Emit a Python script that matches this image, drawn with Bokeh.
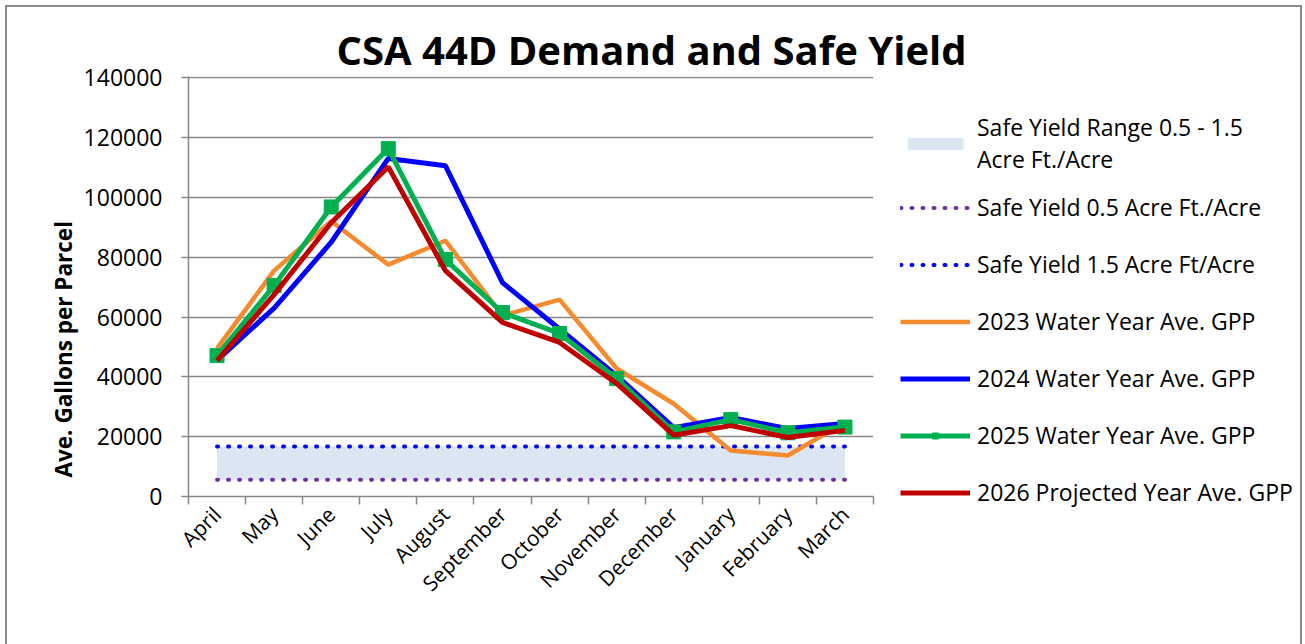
import math
from bokeh.plotting import figure
from bokeh.models import (ColumnDataSource, Legend, LegendItem, FixedTicker, Title,
                          Range1d, BasicTickFormatter, InlineStyleSheet)
from bokeh.embed import file_html
from bokeh.resources import INLINE

months = ["April", "May", "June", "July", "August", "September", "October",
          "November", "December", "January", "February", "March"]
wy2023 = [49500, 75500, 92000, 77500, 85500, 60500, 65800, 42800, 31000, 15400, 13700, 24800]
wy2024 = [45500, 63000, 85000, 113000, 110600, 71500, 56000, 40400, 23000, 26400, 22700, 24400]
wy2025 = [47100, 70500, 96800, 116300, 79200, 61500, 54500, 39400, 21600, 25700, 21300, 23200]
wy2026 = [45400, 67500, 91500, 110200, 75500, 58200, 51500, 37800, 20500, 23700, 19700, 22100]
safe_low = 5600
safe_high = 16700
y_ticks = [0, 20000, 40000, 60000, 80000, 100000, 120000, 140000]

FONT = "Open Sans"
GRAY = "#878787"

x = [i + 0.5 for i in range(len(months))]
src = ColumnDataSource(dict(
    x=x, wy2023=wy2023, wy2024=wy2024, wy2025=wy2025, wy2026=wy2026,
    low=[safe_low] * len(months), high=[safe_high] * len(months)))

p = figure(frame_width=685, frame_height=420, output_backend="svg", toolbar_location=None,
           x_range=Range1d(0, len(months)), y_range=Range1d(y_ticks[0], y_ticks[-1] + 400),
           min_border_left=188, min_border_right=0, min_border_top=76,
           min_border_bottom=132)
p.outline_line_color = None
p.background_fill_color = "white"
p.border_fill_color = "white"
p.stylesheets = [InlineStyleSheet(css=(
    ":host { position: relative; }"
    ":host::after { content: ''; position: absolute; left: 5px; top: 5px; width: 1297px;"
    " height: 650px; border: 2px solid #8a8a8a; border-bottom: none;"
    " pointer-events: none; box-sizing: border-box; }"))]

band = p.varea(x="x", y1="low", y2="high", source=src, fill_color="#DCE6F2")
low_line = p.line(x="x", y="low", source=src, line_color="#7030A0", line_width=4,
                  line_dash="1 10", line_cap="round")
high_line = p.line(x="x", y="high", source=src, line_color="#0000FF", line_width=4,
                   line_dash="1 10", line_cap="round")
l23 = p.line(x="x", y="wy2023", source=src, line_color="#F58A2E", line_width=4.5)
l24 = p.line(x="x", y="wy2024", source=src, line_color="#0000FF", line_width=5)
l25 = p.line(x="x", y="wy2025", source=src, line_color="#00B050", line_width=5)
m25 = p.scatter(x="x", y="wy2025", source=src, marker="square", size=14,
                fill_color="#00B050", line_color="#00B050")
l26 = p.line(x="x", y="wy2026", source=src, line_color="#C00000", line_width=5)

# axes
p.xaxis.ticker = FixedTicker(ticks=x, minor_ticks=list(range(len(months) + 1)))
p.xaxis.major_label_overrides = {xi: m for xi, m in zip(x, months)}
p.xaxis.major_tick_out = 0
p.xaxis.major_tick_in = 0
p.xaxis.minor_tick_out = 8
p.xaxis.minor_tick_in = 0
p.xaxis.major_label_orientation = math.pi / 4
p.xaxis.major_label_text_font = FONT
p.xaxis.major_label_text_font_size = "21px"
p.xaxis.major_label_text_color = "black"
p.xaxis.major_label_standoff = 6

p.yaxis.ticker = FixedTicker(ticks=y_ticks)
p.yaxis.formatter = BasicTickFormatter(use_scientific=False)
p.yaxis.major_tick_out = 7
p.yaxis.major_tick_in = 0
p.yaxis.minor_tick_out = 0
p.yaxis.major_label_text_font = FONT
p.yaxis.major_label_text_font_size = "23px"
p.yaxis.major_label_text_color = "black"
p.yaxis.major_label_standoff = 19

for ax in (p.xaxis, p.yaxis):
    ax.axis_line_color = GRAY
    ax.axis_line_width = 1.5
    ax.major_tick_line_color = GRAY
    ax.minor_tick_line_color = GRAY
    ax.major_tick_line_width = 1.5
    ax.minor_tick_line_width = 1.5

p.xgrid.visible = False
p.ygrid.grid_line_color = GRAY
p.ygrid.grid_line_width = 1.5

# title and y label
p.title = Title(text="CSA 44D Demand and Safe Yield", align="left", offset=148,
                text_font=FONT, text_font_style="bold", text_font_size="40px",
                text_color="black", standoff=0)
p.add_layout(Title(text="Ave. Gallons per Parcel", align="left", offset=19,
                   text_font=FONT, text_font_style="bold", text_font_size="22.5px",
                   text_color="black", standoff=4), "left")

legend = Legend(items=[
    LegendItem(label="Safe Yield Range 0.5 - 1.5\nAcre Ft./Acre", renderers=[band]),
    LegendItem(label="Safe Yield 0.5 Acre Ft./Acre", renderers=[low_line]),
    LegendItem(label="Safe Yield 1.5 Acre Ft/Acre", renderers=[high_line]),
    LegendItem(label="2023 Water Year Ave. GPP", renderers=[l23]),
    LegendItem(label="2024 Water Year Ave. GPP", renderers=[l24]),
    LegendItem(label="2025 Water Year Ave. GPP", renderers=[l25, m25]),
    LegendItem(label="2026 Projected Year Ave. GPP", renderers=[l26]),
], location=(27, -21))
legend.label_text_font = FONT
legend.label_text_font_size = "23px"
legend.label_text_color = "black"
legend.glyph_width = 70
legend.glyph_height = 15
legend.label_height = 50
legend.spacing = 7
legend.padding = 0
legend.margin = 0
legend.label_standoff = 7
legend.border_line_color = None
legend.background_fill_alpha = 0
p.add_layout(legend, "right")

open("out.html", "w").write(file_html(p, INLINE))
